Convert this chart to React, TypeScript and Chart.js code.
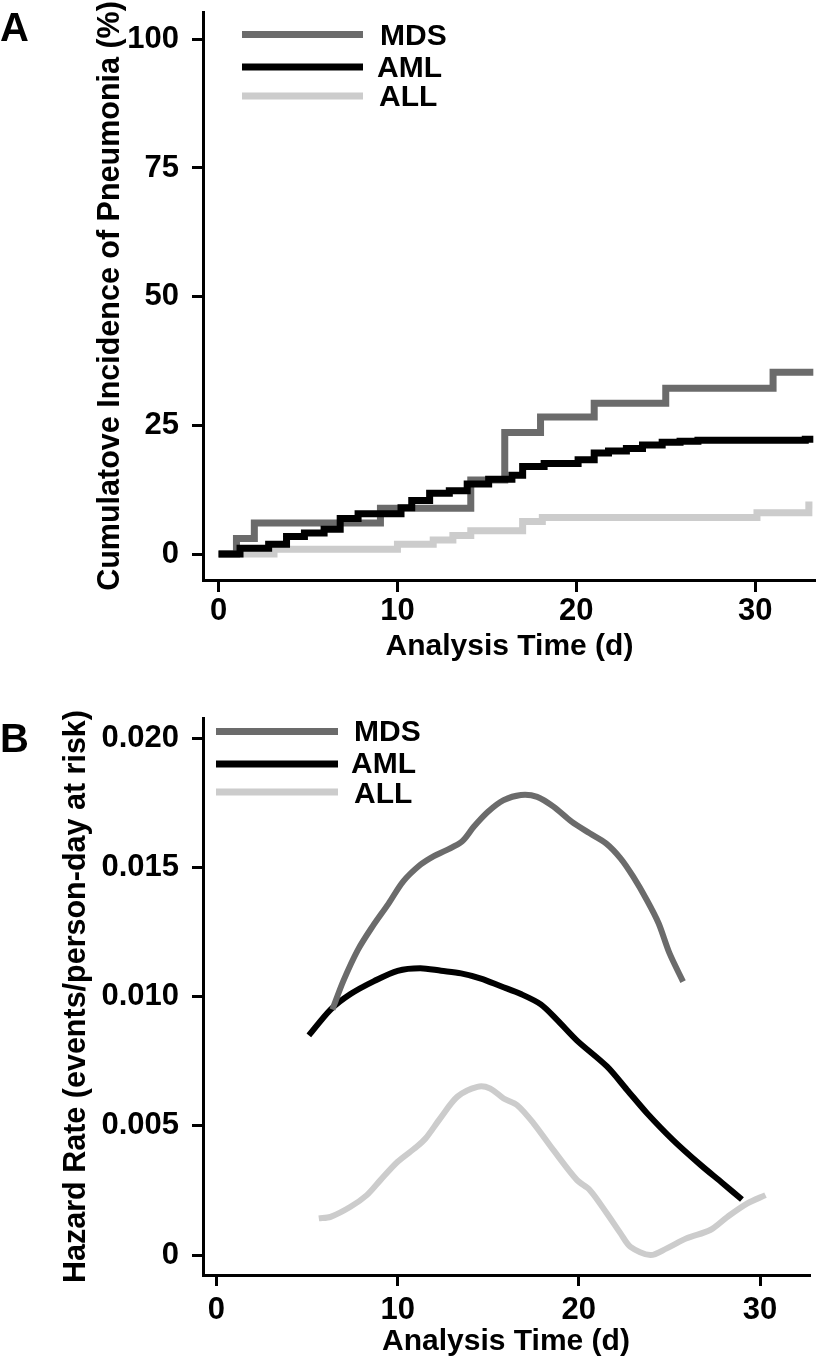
import React, { useEffect, useRef } from 'react';
import { Chart, registerables } from 'chart.js';

Chart.register(...registerables);

// ---------- shared ----------
const SERIES = ['MDS', 'AML', 'ALL'];
const COLORS = ['#6b6b6b', '#000000', '#cccccc'];
const FONT = '"Liberation Sans", Arial, Helvetica, sans-serif';

// ---------- Panel A: cumulative incidence of pneumonia (%) ----------
const MDS_A_T = [0, 1.0, 2.0, 9.05, 14.1, 16.0, 18.0, 21.0, 25.0, 31.0, 33.25];
const MDS_A_V = [0, 3.0, 6.0, 8.9, 14.4, 23.6, 26.6, 29.3, 32.2, 35.3, 35.3];

const AML_A_T = [0, 1.2, 2.8, 3.8, 4.8, 5.9, 6.8, 7.8, 10.2, 10.8, 11.8, 12.9, 13.9, 15.1, 16.4, 17.0, 18.2, 20.1, 21.0, 21.8, 22.8, 23.7, 24.8, 25.8, 26.8, 32.8, 33.25];
const AML_A_V = [0, 1.1, 1.9, 3.4, 4.1, 4.8, 6.9, 7.8, 9.0, 10.4, 11.8, 12.3, 13.6, 14.5, 15.3, 17.0, 17.6, 18.3, 19.6, 20.0, 20.5, 21.2, 21.7, 21.9, 22.1, 22.3, 22.3];

const ALL_A_T = [0, 1.0, 3.1, 10.0, 12.0, 13.1, 14.1, 17.0, 18.1, 30.1, 33.0, 33.2];
const ALL_A_V = [0, 0, 0.9, 1.9, 2.7, 3.6, 4.5, 6.3, 7.1, 8.0, 9.5, 9.5];

const A_X_TICKS = [0, 10, 20, 30];
const A_Y_TICKS = [0, 25, 50, 75, 100];
const A_Y_LABELS = ['0', '25', '50', '75', '100'];

// ---------- Panel B: hazard rate ----------
const MDS_B_T = [6.4, 7.0, 7.8, 8.6, 9.5, 10.3, 11.25, 12.0, 12.7, 13.55, 14.2, 15.0, 15.85, 16.8, 17.7, 18.6, 19.6, 20.6, 21.5, 22.3, 23.0, 23.75, 24.4, 25.0, 25.75];
const MDS_B_V = [0.0095, 0.0106, 0.0118, 0.0127, 0.0136, 0.01445, 0.0151, 0.01544, 0.01567, 0.016, 0.01657, 0.01716, 0.0176, 0.0178, 0.01773, 0.01735, 0.01677, 0.01632, 0.01593, 0.01535, 0.01464, 0.01374, 0.01284, 0.01168, 0.01058];

const AML_B_T = [5.1, 6.3, 7.4, 8.7, 10.0, 11.25, 12.4, 13.5, 14.6, 15.7, 16.8, 17.9, 18.8, 19.9, 21.55, 22.65, 23.75, 25.2, 26.7, 27.9, 29.0];
const AML_B_V = [0.0085, 0.0095, 0.0101, 0.0106, 0.011, 0.0111, 0.011, 0.0109, 0.0107, 0.0104, 0.0101, 0.0097, 0.0091, 0.0083, 0.0073, 0.0064, 0.0055, 0.00445, 0.0035, 0.0028, 0.00215];

const ALL_B_T = [5.65, 6.3, 7.4, 8.3, 9.05, 10.0, 11.05, 11.55, 12.35, 13.3, 14.4, 15.1, 15.85, 16.6, 17.5, 18.6, 19.9, 20.6, 21.55, 22.3, 22.85, 23.95, 24.85, 25.95, 27.25, 28.2, 29.3, 30.3];
const ALL_B_V = [0.00142, 0.00148, 0.00187, 0.00232, 0.0029, 0.00361, 0.00419, 0.00452, 0.00529, 0.00613, 0.00651, 0.00645, 0.00606, 0.0058, 0.0051, 0.00406, 0.0029, 0.00252, 0.00161, 0.00084, 0.00032, 0.0, 0.00026, 0.00065, 0.00097, 0.00148, 0.002, 0.00232];

const B_X_TICKS = [0, 10, 20, 30];
const B_Y_TICKS = [0, 0.005, 0.01, 0.015, 0.02];
const B_Y_LABELS = ['0', '0.005', '0.010', '0.015', '0.020'];

const X_TITLE = 'Analysis Time (d)';
const A_Y_TITLE = 'Cumulatove Incidence of Pneumonia (%)';
const B_Y_TITLE = 'Hazard Rate (events/person-day at risk)';

const toXY = (t: number[], v: number[]) => t.map((x, i) => ({ x, y: v[i] }));

function overlayPlugin(cfg: any) {
  return {
    id: 'overlay' + cfg.letter,
    afterDraw(chart: any) {
      const ctx = chart.ctx;
      ctx.save();
      ctx.fillStyle = '#000';
      ctx.textAlign = 'left';
      ctx.textBaseline = 'alphabetic';
      ctx.font = `bold ${cfg.letterSize}px ${FONT}`;
      ctx.fillText(cfg.letter, cfg.letterX, cfg.letterY);
      ctx.font = `bold ${cfg.legendSize}px ${FONT}`;
      ctx.textBaseline = 'middle';
      SERIES.forEach((name, i) => {
        ctx.beginPath();
        ctx.strokeStyle = COLORS[i];
        ctx.lineWidth = cfg.legendLineWidth;
        ctx.lineCap = 'butt';
        ctx.moveTo(cfg.lineX0, cfg.lineY[i]);
        ctx.lineTo(cfg.lineX1, cfg.lineY[i]);
        ctx.stroke();
        ctx.fillStyle = '#000';
        ctx.fillText(name, cfg.textX[i], cfg.textY[i]);
      });
      ctx.restore();
    },
  };
}

function axisCommon(ticks: number[], labels: string[] | null, pad: number, tickLen: number) {
  return {
    type: 'linear',
    afterBuildTicks: (s: any) => {
      s.ticks = ticks.map((v) => ({ value: v }));
    },
    ticks: {
      autoSkip: false,
      maxRotation: 0,
      minRotation: 0,
      padding: pad,
      color: '#000',
      font: { family: FONT, size: 31, weight: 'bold' },
      callback: (v: number) => {
        const i = ticks.indexOf(v);
        return labels ? labels[i] : String(v);
      },
    },
    grid: {
      drawOnChartArea: false,
      drawTicks: true,
      tickLength: tickLen,
      tickWidth: 3,
      lineWidth: 3,
      color: '#000',
    },
    border: { display: true, width: 3, color: '#000' },
  };
}

function makeA(canvas: HTMLCanvasElement) {
  const ds = (i: number, t: number[], v: number[], order: number) => ({
    label: SERIES[i],
    data: toXY(t, v),
    borderColor: COLORS[i],
    backgroundColor: COLORS[i],
    borderWidth: 7,
    stepped: 'before',
    pointRadius: 0,
    fill: false,
    order,
    borderJoinStyle: 'miter',
    borderCapStyle: 'butt',
  });
  return new Chart(canvas, {
    type: 'line',
    data: {
      datasets: [
        ds(0, MDS_A_T, MDS_A_V, 2),
        ds(1, AML_A_T, AML_A_V, 1),
        ds(2, ALL_A_T, ALL_A_V, 3),
      ],
    },
    options: {
      animation: false,
      responsive: false,
      devicePixelRatio: 1,
      layout: { padding: { left: 0, right: 0, top: 12, bottom: 0 } },
      plugins: { legend: { display: false }, tooltip: { enabled: false } },
      scales: {
        x: {
          ...axisCommon(A_X_TICKS, null, 1, 12),
          min: -0.87,
          max: 33.4,
          afterFit: (s: any) => {
            s.height = 100;
            s.paddingLeft = 0;
            s.paddingRight = 0;
          },
          title: {
            display: true,
            text: X_TITLE,
            color: '#000',
            font: { family: FONT, size: 30, weight: 'bold' },
            padding: { top: 0, bottom: 15 },
          },
        },
        y: {
          ...axisCommon(A_Y_TICKS, A_Y_LABELS, 13, 11),
          min: -5.05,
          max: 105.3,
          afterFit: (s: any) => {
            s.width = 203;
            s.paddingTop = 0;
            s.paddingBottom = 0;
          },
          title: {
            display: true,
            text: A_Y_TITLE,
            color: '#000',
            font: { family: FONT, size: 30.5, weight: 'bold' },
            padding: { top: 92, bottom: 0 },
          },
        },
      },
    } as any,
    plugins: [
      overlayPlugin({
        letter: 'A',
        letterSize: 40,
        letterX: 0,
        letterY: 41,
        legendSize: 30,
        legendLineWidth: 7,
        lineX0: 242,
        lineX1: 363,
        lineY: [34.5, 67, 96],
        textX: [380, 377, 379],
        textY: [37, 69, 98],
      }),
    ],
  } as any);
}

function makeB(canvas: HTMLCanvasElement) {
  const ds = (i: number, t: number[], v: number[], order: number) => ({
    label: SERIES[i],
    data: toXY(t, v),
    borderColor: COLORS[i],
    backgroundColor: COLORS[i],
    borderWidth: 6,
    tension: 0.3,
    pointRadius: 0,
    fill: false,
    order,
    borderCapStyle: 'butt',
  });
  return new Chart(canvas, {
    type: 'line',
    data: {
      datasets: [
        ds(0, MDS_B_T, MDS_B_V, 1),
        ds(1, AML_B_T, AML_B_V, 2),
        ds(2, ALL_B_T, ALL_B_V, 3),
      ],
    },
    options: {
      animation: false,
      responsive: false,
      devicePixelRatio: 1,
      layout: { padding: { left: 0, right: 7, top: 38, bottom: 0 } },
      plugins: { legend: { display: false }, tooltip: { enabled: false } },
      scales: {
        x: {
          ...axisCommon(B_X_TICKS, null, 6, 11),
          min: -0.74,
          max: 32.7,
          afterFit: (s: any) => {
            s.height = 85;
            s.paddingLeft = 0;
            s.paddingRight = 0;
          },
          title: {
            display: true,
            text: X_TITLE,
            color: '#000',
            font: { family: FONT, size: 30, weight: 'bold' },
            padding: { top: 0, bottom: 0 },
          },
        },
        y: {
          ...axisCommon(B_Y_TICKS, B_Y_LABELS, 13, 11),
          min: -0.00077,
          max: 0.02078,
          afterFit: (s: any) => {
            s.width = 203;
            s.paddingTop = 0;
            s.paddingBottom = 0;
          },
          title: {
            display: true,
            text: B_Y_TITLE,
            color: '#000',
            font: { family: FONT, size: 30.5, weight: 'bold' },
            padding: { top: 58, bottom: 0 },
          },
        },
      },
    } as any,
    plugins: [
      overlayPlugin({
        letter: 'B',
        letterSize: 40,
        letterX: 0,
        letterY: 72,
        legendSize: 30,
        legendLineWidth: 7,
        lineX0: 216,
        lineX1: 338,
        lineY: [51.5, 84, 112],
        textX: [354, 351, 354],
        textY: [53, 85, 115],
      }),
    ],
  } as any);
}

export default function App() {
  const refA = useRef<HTMLCanvasElement | null>(null);
  const refB = useRef<HTMLCanvasElement | null>(null);

  useEffect(() => {
    const a = refA.current ? makeA(refA.current) : null;
    const b = refB.current ? makeB(refB.current) : null;
    return () => {
      a?.destroy();
      b?.destroy();
    };
  }, []);

  return (
    <div style={{ position: 'absolute', left: 0, top: 0, width: 816, height: 1360, background: '#fff' }}>
      <canvas ref={refA} width={816} height={680} style={{ display: 'block', width: 816, height: 680 }} />
      <canvas ref={refB} width={816} height={680} style={{ display: 'block', width: 816, height: 680 }} />
    </div>
  );
}
